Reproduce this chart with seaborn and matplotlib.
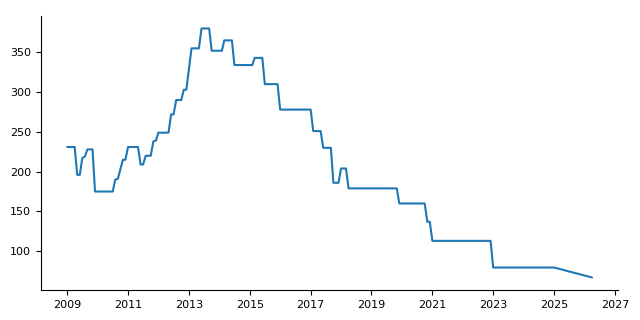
import matplotlib
matplotlib.use("Agg")
import matplotlib.pyplot as plt
import matplotlib.dates as mdates
from matplotlib.ticker import FixedLocator
import seaborn as sns
import pandas as pd

dates = [
    "2009-01-01", "2009-04-01", "2009-05-01", "2009-06-01", "2009-07-01",
    "2009-08-01", "2009-09-01", "2009-11-01", "2009-12-01", "2010-07-01",
    "2010-08-01", "2010-09-01", "2010-11-01", "2010-12-01", "2011-01-01",
    "2011-05-01", "2011-06-01", "2011-07-01", "2011-08-01", "2011-10-01",
    "2011-11-01", "2011-12-01", "2012-01-01", "2012-05-01", "2012-06-01",
    "2012-07-01", "2012-08-01", "2012-10-01", "2012-11-01", "2012-12-01",
    "2013-02-01", "2013-05-01", "2013-06-01", "2013-09-01", "2013-10-01",
    "2014-02-01", "2014-03-01", "2014-06-01", "2014-07-01", "2015-02-01",
    "2015-03-01", "2015-06-01", "2015-07-01", "2015-12-01", "2016-01-01",
    "2017-01-01", "2017-02-01", "2017-05-01", "2017-06-01", "2017-09-01",
    "2017-10-01", "2017-12-01", "2018-01-01", "2018-03-01", "2018-04-01",
    "2019-11-01", "2019-12-01", "2020-10-01", "2020-11-01", "2020-12-01",
    "2021-01-01", "2022-12-01", "2023-01-01", "2025-01-01", "2026-04-01",
]
values = [
    231, 231, 196, 196, 217,
    219, 228, 228, 175, 175,
    190, 191, 215, 215, 231,
    231, 209, 209, 220, 220,
    238, 239, 249, 249, 272,
    272, 290, 290, 303, 303,
    355, 355, 380, 380, 352,
    352, 365, 365, 334, 334,
    343, 343, 310, 310, 278,
    278, 251, 251, 230, 230,
    186, 186, 204, 204, 179,
    179, 160, 160, 137, 137,
    113, 113, 79.5, 79.5, 67,
]
tick_years = [2009, 2011, 2013, 2015, 2017, 2019, 2021, 2023, 2025, 2027]

df = pd.DataFrame({"date": pd.to_datetime(dates), "value": values})

sns.set_style("ticks")
fig, ax = plt.subplots(figsize=(6.4, 3.2), dpi=100)
sns.lineplot(data=df, x="date", y="value", ax=ax, color="#1f77b4", linewidth=1.5)
ax.set_xlabel("")
ax.set_ylabel("")
tick_pos = [mdates.date2num(pd.Timestamp(f"{y}-01-01")) for y in tick_years]
ax.xaxis.set_major_locator(FixedLocator(tick_pos))
ax.xaxis.set_major_formatter(mdates.DateFormatter("%Y"))
ax.tick_params(labelsize=8, colors="black")
for s in ax.spines.values():
    s.set_color("black")
sns.despine(ax=ax)
fig.subplots_adjust(left=0.064, right=0.966, bottom=0.094, top=0.95)
fig.savefig("out.png", dpi=100)
